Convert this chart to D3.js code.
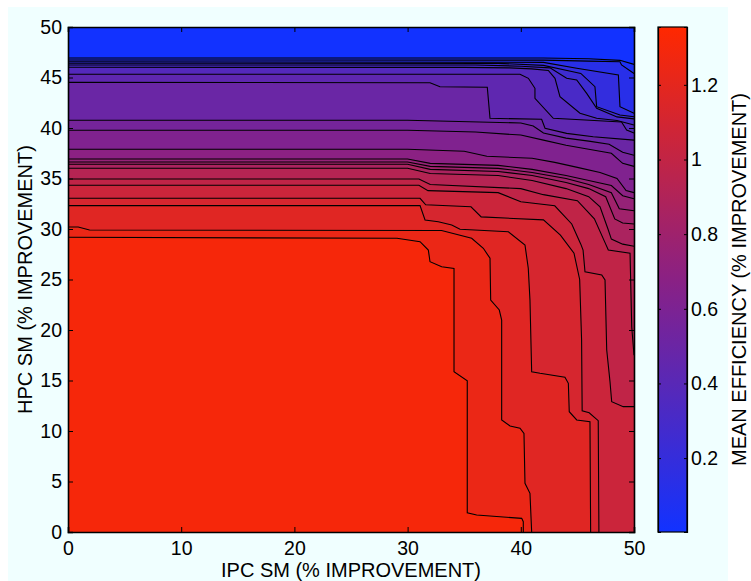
<!DOCTYPE html>
<html>
<head>
<meta charset="utf-8">
<script src="https://cdn.jsdelivr.net/npm/d3@7"></script>
<style>
  body { margin: 0; background: #fff; }
  text { font-family: "Liberation Sans", Arial, Helvetica, sans-serif; }
</style>
</head>
<body>
<div id="chart"></div>
<script>
// contour levels (mean efficiency), lowest first
const levels = [0.062, 0.124, 0.186, 0.248, 0.31, 0.372, 0.434, 0.496, 0.558, 0.62,
                0.682, 0.744, 0.806, 0.868, 0.93, 0.992, 1.054, 1.116, 1.178, 1.24, 1.302];
const zRange = [0.002, 1.355];

// contour lines, [IPC SM, HPC SM], one per level
const line01 = [[0,46.93],[42,46.93],[46,46.85],[48.76,46.7],[50,46.3]];
const line02 = [[0,46.73],[42,46.72],[46,46.62],[48.76,46.56],[48.9,46.24],[50,45.4]];
const line03 = [[0,46.56],[42,46.5],[44.94,45.91],[48.62,45.25],[48.76,42.11],[50,41.45]];
const line04 = [[0,46.41],[38,46.4],[42,46.2],[44.5,45.6],[45.3,45.4],[46.55,44.09],[46.7,42.11],[48.76,41.29],[50,41.12]];
const line05 = [[0,46.24],[36,46.24],[40,46.12],[42.58,45.95],[44.05,44.92],[44.94,44.75],[45.82,43.43],[46.7,41.95],[48.5,41.1],[50,40.9]];
const line06 = [[0,46.01],[35,46.0],[39,45.95],[40.96,45.85],[42.43,45.7],[43.02,44.92],[43.46,43.1],[45.23,41.46],[46.7,40.96],[48.5,40.75],[50,40.3]];
const line07 = [[0,45.32],[39.93,45.32],[40.67,44.92],[41.25,43.93],[41.25,42.94],[42.87,40.96],[48.9,40.6],[49.35,39.8],[50,39.5]];
const line08 = [[0,44.52],[31.98,44.48],[32.86,44.09],[37.04,44.03],[37.28,40.96],[41.84,40.86],[42.14,39.97],[44.05,39.47],[46.4,39.14],[50,38.8]];
const line09 = [[0,40.76],[30,40.76],[40,40.5],[41.1,40.2],[42,39.5],[44,39.0],[46,38.7],[47.8,38.4],[49,37.6],[50,37.3]];
const line10 = [[0,39.77],[30,39.77],[36,39.6],[40,39.3],[42,38.8],[44,38.3],[46,37.9],[48,37.5],[49,36.5],[50,36.2]];
const line11 = [[0,37.89],[30,37.89],[35,37.7],[37,37.2],[41,37.0],[43,36.6],[45,36.1],[47,35.6],[48.5,35.0],[49.3,33.8],[50,33.6]];
const line12 = [[0,36.93],[30,36.93],[32,36.5],[38,36.3],[41,35.9],[44,35.3],[46,34.8],[48,34.3],[49,33.3],[50,33.0]];
const line13 = [[0,36.63],[30,36.63],[32,36.2],[38,36.0],[41,35.6],[44,35.0],[46,34.4],[48,33.6],[48.7,32.0],[50,31.8]];
const line14 = [[0,36.41],[30,36.41],[32,35.9],[38,35.7],[41,35.3],[44,34.6],[46,34.0],[47.5,33.2],[48.3,31.0],[49,30.6],[50,30.5]];
const line15 = [[0,36.01],[30,36.01],[32,35.5],[38,35.3],[41,34.8],[44,34.0],[46,33.2],[47,32.2],[47.7,30.0],[48,29.0],[49,28.5],[50,28.3]];
const line16 = [[0,34.95],[31,34.95],[32,34.4],[40,34.0],[42,33.4],[45,32.8],[46.5,31.0],[47.5,28.5],[47.73,27.92],[49.65,27.6],[49.8,20.3],[50,17.5]];
const line17 = [[0,34.33],[31,34.33],[31.8,33.8],[38,33.6],[40,32.7],[43,32.3],[44.5,30.5],[45.3,28.5],[45.5,27.92],[45.67,25.77],[47.15,25.45],[47.44,24.95],[47.59,18.02],[47.88,14.88],[48.03,12.9],[49.05,12.41],[50,12.41]];
const line18 = [[0,33.04],[31.1,33.04],[31.6,32.4],[35.6,32.2],[36.5,31.2],[42,30.9],[43.5,29.4],[44.7,27.6],[45.2,25.0],[45.37,19.0],[45.42,12.0],[46.04,11.8],[46.84,11.02],[46.9,0]];
const line19 = [[0,32.31],[31.1,32.31],[31.54,30.89],[32.71,30.72],[33.9,30.4],[34.63,29.97],[38.9,29.73],[40.37,28.42],[40.66,26.11],[40.81,22.97],[40.96,15.87],[41.7,15.71],[43.9,15.32],[44.2,14.72],[44.28,11.91],[44.94,11.09],[46.11,10.92],[46.17,0]];
const line20 = [[0,30.2],[0.9,30.2],[1.9,29.9],[33.0,29.85],[35.66,29.08],[36.69,28.09],[37.28,27.1],[37.34,22.97],[38.1,21.98],[38.31,20.99],[38.31,11.09],[39.05,10.5],[39.93,10.27],[40.28,9.77],[40.37,4.82],[40.81,3.83],[40.96,0]];
const line21 = [[0,29.18],[29.06,29.08],[31.1,28.74],[31.83,27.92],[31.98,26.76],[33.01,26.27],[34.1,26.1],[34.1,15.87],[35.27,14.98],[35.27,1.91],[36.1,1.68],[40.08,1.35],[40.22,1.02],[40.22,0]];
const contourLines = [line01, line02, line03, line04, line05, line06, line07, line08, line09, line10, line11,
                      line12, line13, line14, line15, line16, line17, line18, line19, line20, line21];

const xTicks = [0, 10, 20, 30, 40, 50];
const yTicks = [0, 5, 10, 15, 20, 25, 30, 35, 40, 45, 50];
const cTicks = [0.2, 0.4, 0.6, 0.8, 1, 1.2];

const W = 751, H = 581;
const plot = { left: 68, right: 634, top: 27, bottom: 532 };
const bar = { left: 658, right: 687 };
const tickFont = 19.5, labelFont = 20;

const svg = d3.select("#chart").append("svg")
    .attr("width", W).attr("height", H);

// figure background
svg.append("rect").attr("x", 8).attr("y", 7).attr("width", 720).attr("height", 574)
   .attr("fill", "#f0ffff");

const x = d3.scaleLinear().domain([0, 50]).range([plot.left, plot.right]);
const y = d3.scaleLinear().domain([0, 50]).range([plot.bottom, plot.top]);
const color = d3.scaleLinear()
    .domain([zRange[0], (zRange[0] + zRange[1]) / 2, zRange[1]])
    .range(["#1232ff", "#8a2184", "#ff2800"])
    .clamp(true);

const g = svg.append("g");

// lowest band fills the whole box
g.append("rect")
 .attr("x", x(0)).attr("y", y(50))
 .attr("width", x(50) - x(0)).attr("height", y(0) - y(50))
 .attr("fill", color(zRange[0]));

// region above each level is the area below/left of its line
function regionPoints(pts) {
  const p = pts.slice();
  const last = p[p.length - 1];
  if (last[1] > 0) p.push([50, 0]);
  p.push([0, 0]);
  return p;
}
const area = d3.line().x(d => x(d[0])).y(d => y(d[1]));

g.selectAll("path.band").data(contourLines).join("path")
 .attr("class", "band")
 .attr("d", d => area(regionPoints(d)) + "Z")
 .attr("fill", (d, i) => color(levels[i]));

g.selectAll("path.iso").data(contourLines).join("path")
 .attr("class", "iso")
 .attr("d", d => area(d))
 .attr("fill", "none")
 .attr("stroke", "#000")
 .attr("stroke-width", 1.1);

// axes, ticks inward on all four sides
const tickLen = 5;
const axB = svg.append("g").attr("transform", `translate(0,${plot.bottom})`)
   .call(d3.axisBottom(x).tickValues(xTicks).tickSize(-tickLen).tickPadding(9).tickFormat(d3.format("d")));
const axT = svg.append("g").attr("transform", `translate(0,${plot.top})`)
   .call(d3.axisTop(x).tickValues(xTicks).tickSize(-tickLen).tickFormat(""));
const axL = svg.append("g").attr("transform", `translate(${plot.left},0)`)
   .call(d3.axisLeft(y).tickValues(yTicks).tickSize(-tickLen).tickPadding(6).tickFormat(d3.format("d")));
const axR = svg.append("g").attr("transform", `translate(${plot.right},0)`)
   .call(d3.axisRight(y).tickValues(yTicks).tickSize(-tickLen).tickFormat(""));
[axB, axT, axL, axR].forEach(a => {
  a.select(".domain").attr("stroke", "#000").attr("stroke-width", 1.6);
  a.selectAll(".tick line").attr("stroke", "#000").attr("stroke-width", 1);
  a.selectAll("text").attr("font-size", tickFont).attr("fill", "#000")
   .attr("font-family", "Liberation Sans, Arial, sans-serif");
});

svg.append("text")
   .attr("x", (plot.left + plot.right) / 2).attr("y", 577)
   .attr("text-anchor", "middle").attr("font-size", labelFont)
   .text("IPC SM (% IMPROVEMENT)");
svg.append("text")
   .attr("transform", `translate(32,${(plot.top + plot.bottom) / 2}) rotate(-90)`)
   .attr("text-anchor", "middle").attr("font-size", labelFont)
   .text("HPC SM (% IMPROVEMENT)");

// colorbar
const cy = d3.scaleLinear().domain(zRange).range([plot.bottom, plot.top]);
const grad = svg.append("defs").append("linearGradient")
   .attr("id", "cbar").attr("x1", 0).attr("y1", 1).attr("x2", 0).attr("y2", 0);
d3.range(0, 1.0001, 0.1).forEach(t => {
  grad.append("stop").attr("offset", t)
      .attr("stop-color", color(zRange[0] + t * (zRange[1] - zRange[0])));
});
svg.append("rect")
   .attr("x", bar.left).attr("y", plot.top)
   .attr("width", bar.right - bar.left).attr("height", plot.bottom - plot.top)
   .attr("fill", "url(#cbar)");
const cR = svg.append("g").attr("transform", `translate(${bar.right},0)`)
   .call(d3.axisRight(cy).tickValues(cTicks).tickSize(-3).tickPadding(4).tickFormat(d3.format("")));
const cL = svg.append("g").attr("transform", `translate(${bar.left},0)`)
   .call(d3.axisLeft(cy).tickValues(cTicks).tickSize(-3).tickFormat(""));
[cR, cL].forEach(a => {
  a.select(".domain").attr("stroke", "#000").attr("stroke-width", 1.2);
  a.selectAll(".tick line").attr("stroke", "#000");
  a.selectAll("text").attr("font-size", tickFont).attr("fill", "#000")
   .attr("font-family", "Liberation Sans, Arial, sans-serif");
});
svg.append("rect")
   .attr("x", bar.left).attr("y", plot.top)
   .attr("width", bar.right - bar.left).attr("height", plot.bottom - plot.top)
   .attr("fill", "none").attr("stroke", "#000").attr("stroke-width", 1.2);
svg.append("text")
   .attr("transform", `translate(746,${(plot.top + plot.bottom) / 2}) rotate(-90)`)
   .attr("text-anchor", "middle").attr("font-size", labelFont)
   .text("MEAN EFFICIENCY (% IMPROVEMENT)");
</script>
</body>
</html>
